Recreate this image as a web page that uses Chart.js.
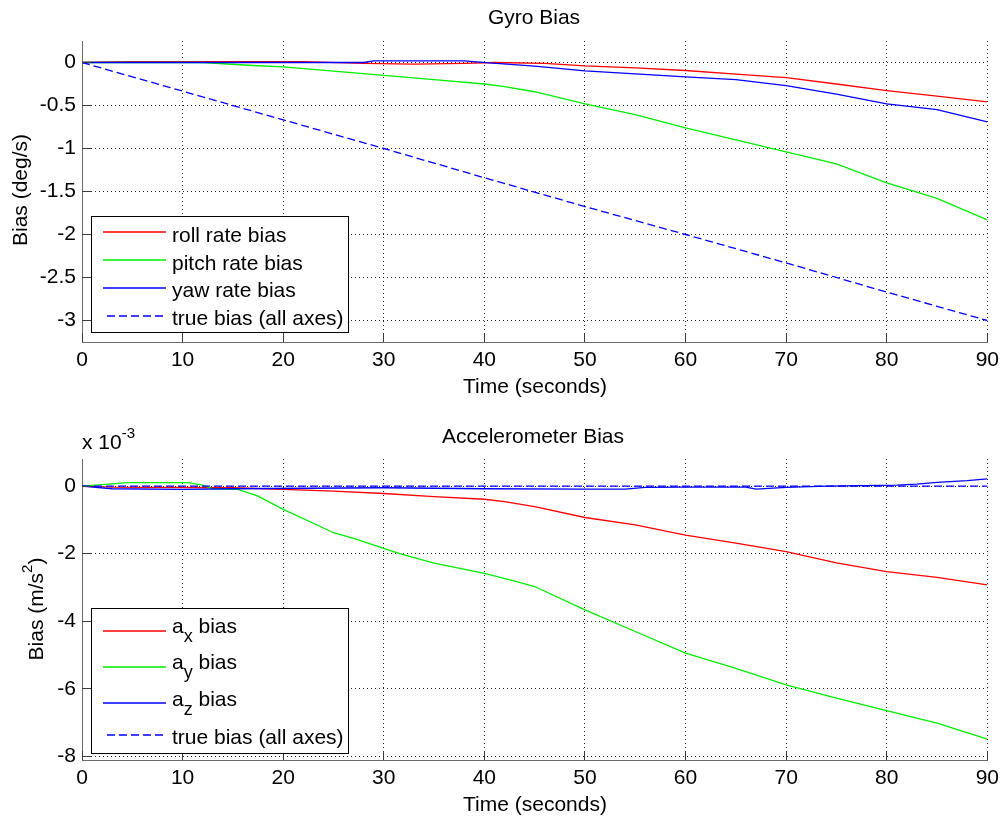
<!DOCTYPE html>
<html>
<head>
<meta charset="utf-8">
<title>Gyro and Accelerometer Bias</title>
<script src="https://cdn.jsdelivr.net/npm/chart.js@4.4.1/dist/chart.umd.min.js"></script>
<style>
  html, body { margin: 0; padding: 0; background: #fff; }
  #wrap { position: relative; width: 1005px; height: 818px; overflow: hidden; }
  canvas { position: absolute; left: 0; }
  #gyro { top: 0; }
  #accel { top: 410px; }
</style>
</head>
<body>
<div id="wrap">
  <canvas id="gyro" width="1005" height="410"></canvas>
  <canvas id="accel" width="1005" height="408"></canvas>
</div>
<script>
// ---- Shared axis ticks ----
const timeTicks = [0, 10, 20, 30, 40, 50, 60, 70, 80, 90];
const gyroTicks = [0, -0.5, -1, -1.5, -2, -2.5, -3];
const accelTicks = [0, -2, -4, -6, -8];          // units of 1e-3 m/s^2

// ---- Gyro bias estimates (deg/s) ----
const rollTime  = [0, 4.5, 22, 28, 33, 38, 41, 46, 50, 55, 60, 65, 70, 75, 80, 85, 90];
const rollBias  = [0, 0.01, 0.01, -0.01, -0.02, -0.01, 0, -0.01, -0.04, -0.062, -0.093, -0.136, -0.175, -0.25, -0.326, -0.39, -0.458];

const pitchTime = [0, 12, 17, 20, 25, 30, 35, 40, 42, 45, 50, 55, 60, 65, 70, 75, 80, 85, 90];
const pitchBias = [0, 0, -0.035, -0.05, -0.1, -0.15, -0.2, -0.25, -0.28, -0.34, -0.48, -0.606, -0.76, -0.9, -1.04, -1.18, -1.4, -1.58, -1.83];

const yawTime   = [0, 28, 29, 38, 40.5, 45, 50, 55, 60, 65, 70, 75, 80, 85, 90];
const yawBias   = [0, 0, 0.02, 0.02, -0.005, -0.043, -0.097, -0.132, -0.167, -0.198, -0.268, -0.369, -0.48, -0.548, -0.69];

const gyroTrueTime = [0, 10, 20, 30, 40, 50, 60, 70, 80, 90];
const gyroTrueBias = [0, -0.333, -0.667, -1.0, -1.34, -1.675, -2.0, -2.33, -2.67, -3.0];

// ---- Accelerometer bias estimates (x 1e-3 m/s^2) ----
const axTime = [0, 3, 15, 20, 25, 30, 35, 40, 42, 45, 50, 55, 60, 65, 70, 75, 80, 85, 90];
const axBias = [0, -0.03, -0.05, -0.1, -0.15, -0.22, -0.31, -0.39, -0.46, -0.61, -0.93, -1.15, -1.45, -1.69, -1.94, -2.27, -2.53, -2.7, -2.92];

const ayTime = [0, 2, 4.5, 10.5, 12, 13, 15.5, 17.5, 20, 23, 25, 27, 30, 31.5, 35, 40, 41.6, 43.3, 45, 50, 55, 60, 65, 70, 75, 80, 85, 90];
const ayBias = [0, 0.04, 0.1, 0.1, 0.03, -0.08, -0.1, -0.3, -0.69, -1.1, -1.38, -1.55, -1.84, -1.99, -2.28, -2.58, -2.7, -2.83, -2.97, -3.66, -4.3, -4.94, -5.39, -5.88, -6.27, -6.64, -7.01, -7.48];

const azTime = [0, 3, 10, 15, 30, 40, 50, 54, 56, 60, 66, 67, 70, 74, 81, 83, 85, 88, 90];
const azBias = [0, -0.08, -0.1, -0.08, -0.05, -0.08, -0.09, -0.09, -0.04, -0.03, -0.03, -0.09, -0.04, 0, 0.03, 0.06, 0.11, 0.16, 0.21];

const accelTrueTime = [0, 90];
const accelTrueBias = [0, 0];

// ---- Labels ----
const gyroLabels  = ['roll rate bias', 'pitch rate bias', 'yaw rate bias', 'true bias (all axes)'];
const accelLabels = ['a_x bias', 'a_y bias', 'a_z bias', 'true bias (all axes)'];

const FONT = '"Liberation Sans", Arial, Helvetica, sans-serif';
const FS = 21;
const RED = '#ff0000', GREEN = '#00ee00', BLUE = '#0000ff';

function pts(ts, vs) { return ts.map((t, i) => ({ x: t, y: vs[i] })); }

// Split "a_x", "m/s^2", "10^{-3}" into plain / subscript / superscript runs
function parseTex(s) {
  const parts = [];
  const re = /([_^])(\{[^}]*\}|.)/g;
  let last = 0, m;
  while ((m = re.exec(s))) {
    if (m.index > last) parts.push({ t: s.slice(last, m.index), k: 0 });
    let body = m[2];
    if (body[0] === '{') body = body.slice(1, -1);
    parts.push({ t: body, k: m[1] === '_' ? -1 : 1 });
    last = re.lastIndex;
  }
  if (last < s.length) parts.push({ t: s.slice(last), k: 0 });
  return parts;
}

function drawTex(ctx, s, x, y, align, size) {
  const parts = parseTex(s);
  const fontOf = p => (p.k === 0 ? size : p.k < 0 ? Math.round(size * 0.85) : Math.round(size * 0.7)) + 'px ' + FONT;
  let w = 0;
  for (const p of parts) { ctx.font = fontOf(p); p.w = ctx.measureText(p.t).width; w += p.w; }
  let cx = align === 'center' ? x - w / 2 : align === 'right' ? x - w : x;
  ctx.textAlign = 'left';
  ctx.textBaseline = 'alphabetic';
  for (const p of parts) {
    ctx.font = fontOf(p);
    const dy = p.k < 0 ? size * 0.42 : p.k > 0 ? -size * 0.52 : 0;
    ctx.fillText(p.t, cx, y + dy);
    cx += p.w;
  }
}

function align(p) { return Math.round(p - 0.5) + 0.5; }

// Titles, axis labels, inward tick marks and the boxed legend
const decor = {
  id: 'decor',
  afterDraw(chart, args, o) {
    const ctx = chart.ctx, a = chart.chartArea;
    const xs = chart.scales.x, ys = chart.scales.y;
    ctx.save();

    // inward tick marks on the two drawn axes
    ctx.strokeStyle = '#3a3a3a';
    ctx.lineWidth = 1;
    ctx.beginPath();
    xs.ticks.forEach(t => {
      const px = align(xs.getPixelForValue(t.value));
      ctx.moveTo(px, a.bottom);
      ctx.lineTo(px, a.bottom - 9);
    });
    ys.ticks.forEach(t => {
      const py = align(ys.getPixelForValue(t.value));
      ctx.moveTo(a.left, py);
      ctx.lineTo(a.left + 9, py);
    });
    ctx.stroke();

    ctx.fillStyle = '#000';
    drawTex(ctx, o.title.text, o.title.x, o.title.y, 'center', FS);
    drawTex(ctx, o.xlabel.text, o.xlabel.x, o.xlabel.y, 'center', FS);
    if (o.exponent) drawTex(ctx, o.exponent.text, o.exponent.x, o.exponent.y, 'left', FS);

    ctx.save();
    ctx.translate(o.ylabel.x, o.ylabel.y);
    ctx.rotate(-Math.PI / 2);
    drawTex(ctx, o.ylabel.text, 0, 0, 'center', FS);
    ctx.restore();

    // legend
    const L = o.legend;
    ctx.fillStyle = '#fff';
    ctx.fillRect(L.left, L.top, L.right - L.left, L.bottom - L.top);
    ctx.strokeStyle = '#000';
    ctx.lineWidth = 1;
    ctx.strokeRect(L.left, L.top, L.right - L.left, L.bottom - L.top);
    chart.data.datasets.forEach((ds, i) => {
      const ly = Math.round(L.lineY[i]);
      ctx.save();
      ctx.strokeStyle = ds.borderColor;
      ctx.lineWidth = 1.5;
      ctx.setLineDash(ds.borderDash || []);
      ctx.beginPath();
      ctx.moveTo(ds.borderDash ? L.dashX0 : L.lineX0, ly);
      ctx.lineTo(L.lineX1, ly);
      ctx.stroke();
      ctx.restore();
      ctx.fillStyle = '#000';
      drawTex(ctx, ds.label, L.textX, L.textY[i], 'left', FS);
    });
    ctx.restore();
  }
};

function makeChart(id, datasets, yTicks, yMin, yMax, padTop, xAxisH, decorOpts) {
  return new Chart(document.getElementById(id), {
    type: 'line',
    data: { datasets },
    plugins: [decor],
    options: {
      responsive: false,
      animation: false,
      events: [],
      layout: { autoPadding: false, padding: { top: padTop, right: 15, bottom: 0, left: 0 } },
      elements: { point: { radius: 0 }, line: { tension: 0, borderWidth: 1.3 } },
      plugins: { legend: { display: false }, tooltip: { enabled: false }, title: { display: false }, decor: decorOpts },
      scales: {
        x: {
          type: 'linear', min: 0, max: 90,
          afterBuildTicks: s => { s.ticks = timeTicks.map(v => ({ value: v })); },
          afterFit: s => { s.height = xAxisH; },
          grid: { color: 'rgba(0,0,0,0.85)', lineWidth: 1, drawTicks: false },
          border: { display: true, color: '#6a6a6a', width: 1, dash: [1, 3] },
          ticks: { font: { family: FONT, size: FS }, color: '#000', padding: 6, maxRotation: 0, autoSkip: false,
                   callback: v => String(v) }
        },
        y: {
          type: 'linear', min: yMin, max: yMax,
          afterBuildTicks: s => { s.ticks = yTicks.map(v => ({ value: v })); },
          afterFit: s => { s.width = 82; },
          grid: { color: 'rgba(0,0,0,0.85)', lineWidth: 1, drawTicks: false },
          border: { display: true, color: '#6a6a6a', width: 1, dash: [1, 3] },
          ticks: { font: { family: FONT, size: FS }, color: '#000', padding: 6, autoSkip: false,
                   callback: v => String(v) }
        }
      }
    }
  });
}

function line(label, ts, vs, color, order, dash) {
  const d = { label, data: pts(ts, vs), borderColor: color, pointRadius: 0, fill: false, order };
  if (dash) d.borderDash = dash;
  return d;
}

makeChart('gyro', [
  line(gyroLabels[0], rollTime, rollBias, RED, 4),
  line(gyroLabels[1], pitchTime, pitchBias, GREEN, 3),
  line(gyroLabels[2], yawTime, yawBias, BLUE, 2),
  line(gyroLabels[3], gyroTrueTime, gyroTrueBias, BLUE, 1, [8, 4])
], gyroTicks, -3.25, 0.25, 41, 68, {
  title:  { text: 'Gyro Bias', x: 534, y: 24 },
  xlabel: { text: 'Time (seconds)', x: 535, y: 393 },
  ylabel: { text: 'Bias (deg/s)', x: 27, y: 190 },
  legend: { left: 91.5, top: 216.5, right: 348.5, bottom: 332.5,
            lineX0: 103, dashX0: 107, lineX1: 166, textX: 172,
            lineY: [232.3, 260.3, 288, 315.7], textY: [241.7, 269.7, 297.4, 325.1] }
});

makeChart('accel', [
  line(accelLabels[0], axTime, axBias, RED, 4),
  line(accelLabels[1], ayTime, ayBias, GREEN, 3),
  line(accelLabels[2], azTime, azBias, BLUE, 2),
  line(accelLabels[3], accelTrueTime, accelTrueBias, BLUE, 1, [8, 4])
], accelTicks, -8.1, 0.8, 49, 58, {
  title:    { text: 'Accelerometer Bias', x: 533, y: 33 },
  xlabel:   { text: 'Time (seconds)', x: 535, y: 401 },
  exponent: { text: 'x 10^{-3}', x: 82, y: 39 },
  ylabel:   { text: 'Bias (m/s^2)', x: 43, y: 199 },
  legend: { left: 91.5, top: 198.5, right: 348.5, bottom: 343.5,
            lineX0: 103, dashX0: 107, lineX1: 166, textX: 172,
            lineY: [220.7, 256.7, 293.3, 325], textY: [222.7, 259.3, 296, 334] }
});
</script>
</body>
</html>
